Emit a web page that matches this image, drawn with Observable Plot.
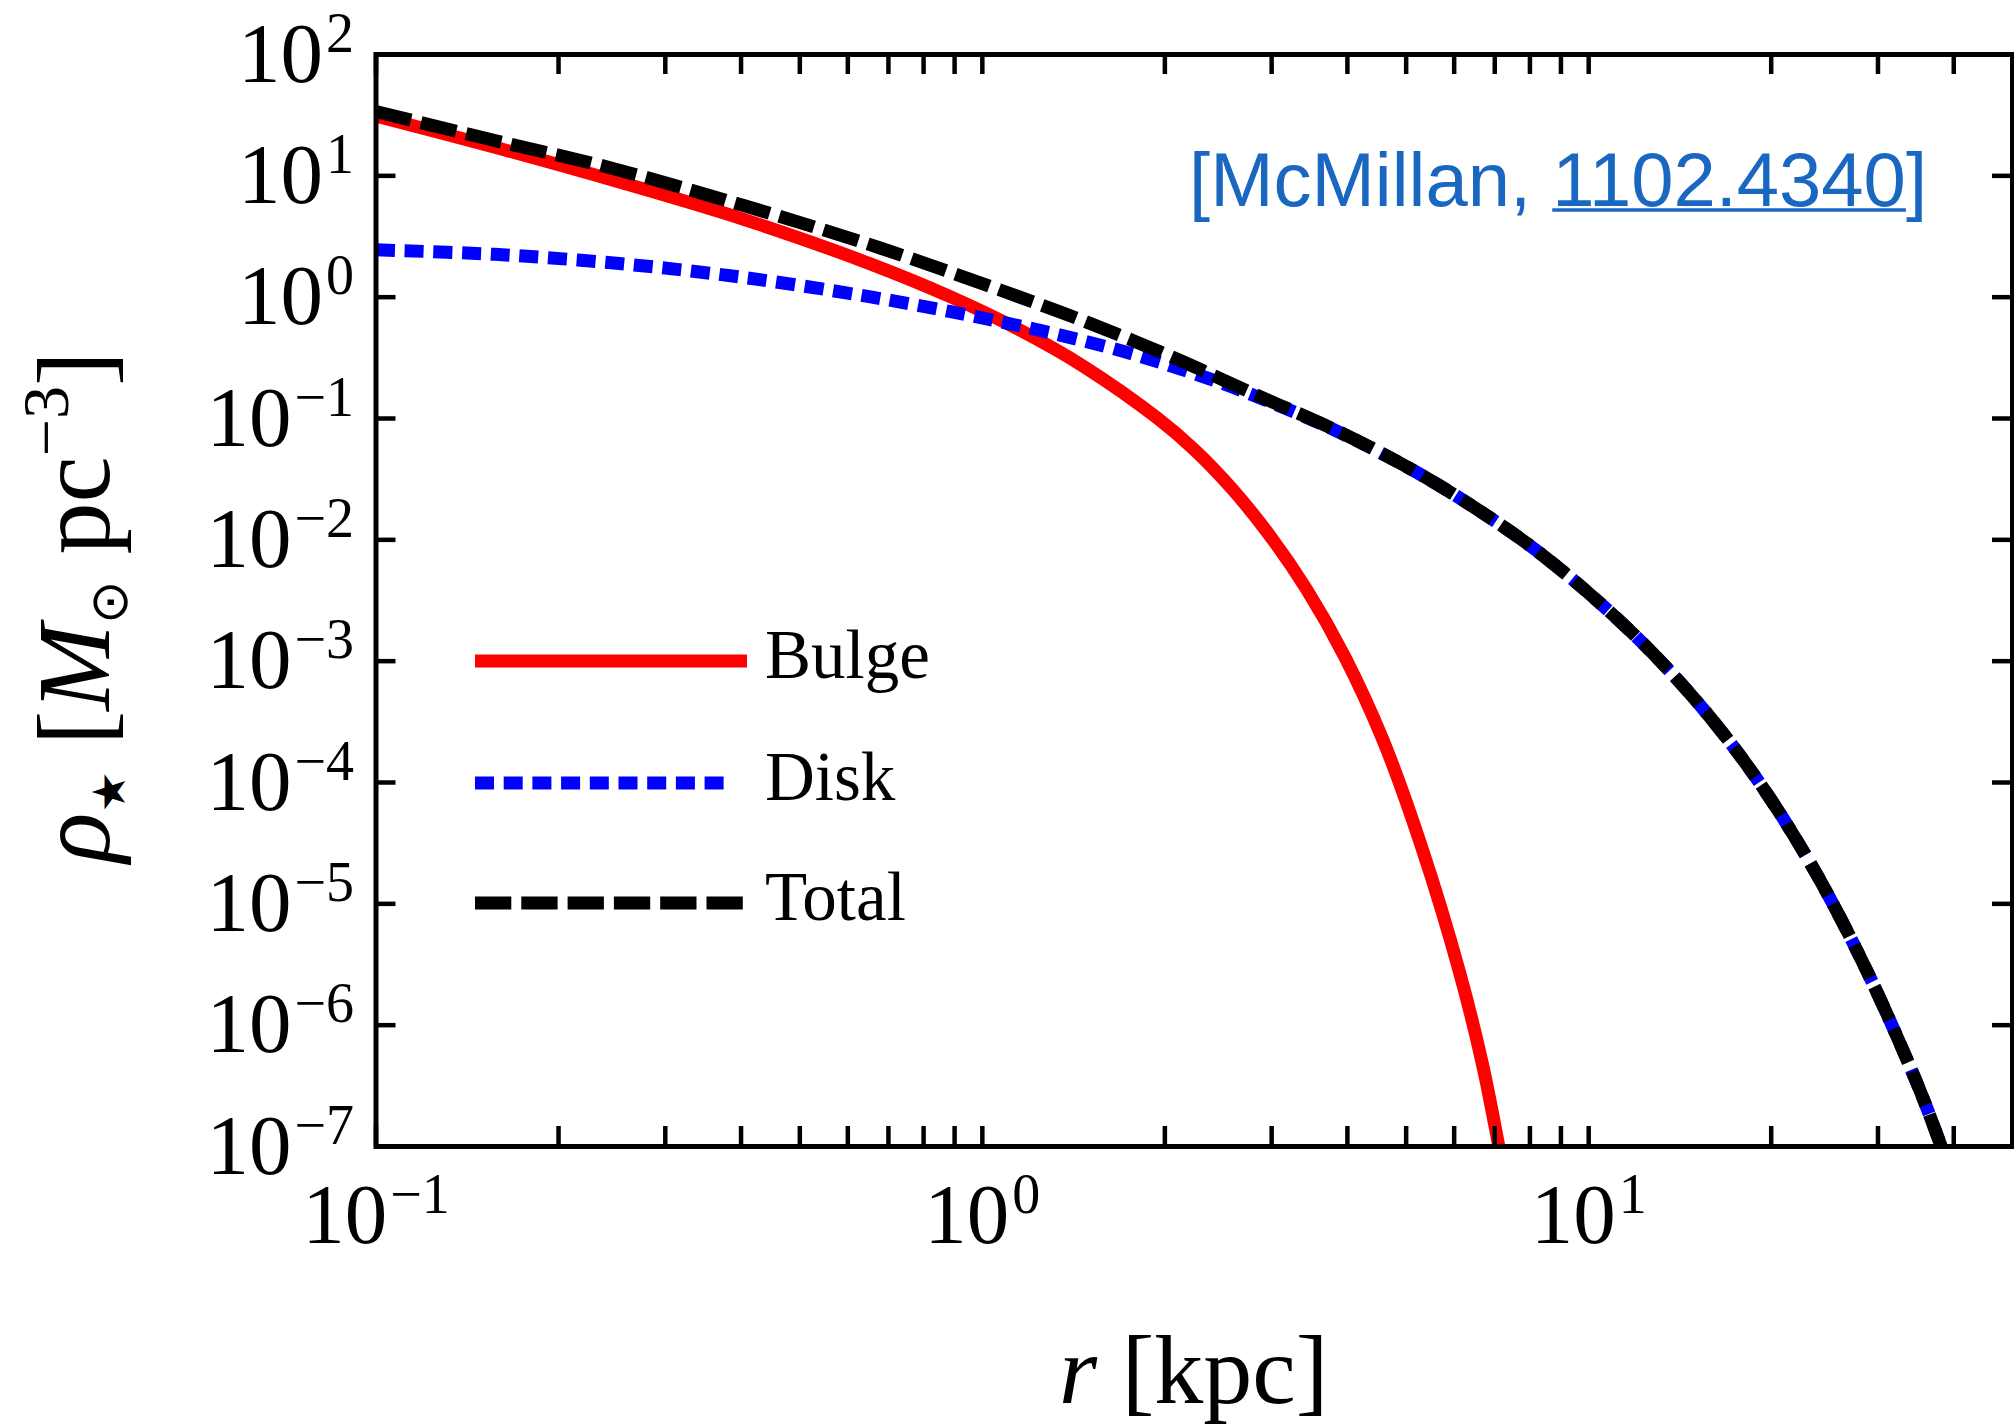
<!DOCTYPE html>
<html>
<head>
<meta charset="utf-8">
<script src="https://cdn.jsdelivr.net/npm/d3@7"></script>
<script src="https://cdn.jsdelivr.net/npm/@observablehq/plot@0.6"></script>
<style>
  html, body { margin: 0; padding: 0; background: #fff; }
  #chart { position: relative; width: 2014px; height: 1427px; }
</style>
</head>
<body>
<div id="chart"></div>
<script>
// Stellar density profiles of the Milky Way mass model (McMillan 2011), r in kpc, rho in Msun/pc^3
const bulgeR   = [0.1, 0.157, 0.252, 0.404, 0.647, 0.887, 1.155, 1.467, 1.947, 2.244, 2.585, 2.979, 3.424, 3.958, 4.579, 5.294, 6.124, 6.678, 7.079, 7.3];
const bulgeRho = [31.1, 17.2, 8.89, 4.38, 1.918, 1.005, 0.533, 0.270, 0.1002, 0.0545, 0.0261, 0.01084, 0.00392, 0.001094, 2.239e-4, 3.01e-5, 2.73e-6, 4.81e-7, 1.122e-7, 4.91e-8];

const diskR   = [0.1, 0.157, 0.252, 0.404, 0.647, 0.887, 1.088, 1.355, 1.718, 2.175, 2.754, 3.89, 5.33, 7.08, 8.32, 10.45, 13.12, 16.27, 19.68, 23.77, 28.75, 34.75, 37.98, 40];
const diskRho = [2.455, 2.253, 1.892, 1.453, 1.0146, 0.7591, 0.6163, 0.4820, 0.3543, 0.2457, 0.1607, 0.07643, 0.03365, 0.01379, 0.007718, 0.002997, 0.001003, 2.944e-4, 8.08e-5, 1.750e-5, 2.813e-6, 3.37e-7, 1.064e-7, 5.15e-8];

const totalR   = [0.1, 0.157, 0.244, 0.404, 0.647, 0.930, 1.123, 1.467, 2.074, 2.841, 3.89, 5.33, 7.08, 8.32, 10.45, 13.12, 16.27, 19.68, 23.77, 28.75, 34.75, 37.98, 40];
const totalRho = [33.88, 19.54, 11.61, 5.689, 2.748, 1.472, 1.049, 0.6397, 0.3148, 0.155, 0.0771, 0.03365, 0.01379, 0.007718, 0.002997, 0.001003, 2.944e-4, 8.08e-5, 1.750e-5, 2.813e-6, 3.37e-7, 1.064e-7, 5.15e-8];

// Axis ticks
const xLabelTicks = [0.1, 1, 10];
const xTicks = [0.1, 0.2, 0.3, 0.4, 0.5, 0.6, 0.7, 0.8, 0.9, 1, 2, 3, 4, 5, 6, 7, 8, 9, 10, 20, 30, 40];
const yLabelTicks = [1e-7, 1e-6, 1e-5, 1e-4, 1e-3, 1e-2, 1e-1, 1, 10, 100];

const seriesNames = ["Bulge", "Disk", "Total"];

const table = (rs, vs) => rs.map((r, i) => ({r, rho: vs[i]}));
const bulge = table(bulgeR, bulgeRho);
const disk = table(diskR, diskRho);
const total = table(totalR, totalRho);

const W = 2014, H = 1427;
const M = {top: 54, right: 2, bottom: 281, left: 375.5};
const innerW = W - M.left - M.right;
const innerH = H - M.top - M.bottom;
const tickLen = 20;
const serif = "'Liberation Serif', 'Times New Roman', serif";
const linkBlue = "#1a67c2";

const styles = {
  Bulge: {stroke: "#ff0000", dash: null},
  Disk:  {stroke: "#0000ff", dash: "19 9.7"},
  Total: {stroke: "#000000", dash: "36.3 10"}
};

const expFormat = d => `10^${Math.round(Math.log10(d))}`;

const svg = Plot.plot({
  width: W,
  height: H,
  marginTop: M.top,
  marginRight: M.right,
  marginBottom: M.bottom,
  marginLeft: M.left,
  style: {background: "white", overflow: "visible"},
  x: {type: "log", domain: [0.1, 50], axis: null},
  y: {type: "log", domain: [1e-7, 100], axis: null},
  marks: [
    Plot.line(bulge, {x: "r", y: "rho", stroke: styles.Bulge.stroke, strokeWidth: 13, curve: "catmull-rom", clip: true, strokeLinejoin: "round"}),
    Plot.line(disk, {x: "r", y: "rho", stroke: styles.Disk.stroke, strokeWidth: 13, strokeDasharray: styles.Disk.dash, strokeLinecap: "butt", curve: "catmull-rom", clip: true}),
    Plot.line(total, {x: "r", y: "rho", stroke: styles.Total.stroke, strokeWidth: 13, strokeDasharray: styles.Total.dash, strokeLinecap: "butt", curve: "catmull-rom", clip: true}),
    // inward ticks on all four sides
    Plot.ruleX(xTicks, {x: d => d, insetTop: innerH - tickLen, strokeWidth: 4.5}),
    Plot.ruleX(xTicks, {x: d => d, insetBottom: innerH - tickLen, strokeWidth: 4.5}),
    Plot.ruleY(yLabelTicks, {y: d => d, insetRight: innerW - tickLen, strokeWidth: 4.5}),
    Plot.ruleY(yLabelTicks, {y: d => d, insetLeft: innerW - tickLen, strokeWidth: 4.5}),
    Plot.frame({stroke: "black", strokeWidth: 5}),
    Plot.axisX({ticks: xLabelTicks, tickFormat: expFormat, tickSize: 0, tickPadding: 36, fontSize: 85, fontFamily: serif, label: null}),
    Plot.axisY({ticks: yLabelTicks, tickFormat: expFormat, tickSize: 0, tickPadding: 22, fontSize: 85, fontFamily: serif, label: null})
  ]
});

document.getElementById("chart").appendChild(svg);
const root = d3.select(svg);

// Power-of-ten tick labels with raised exponents
root.selectAll('g[aria-label="x-axis tick label"] text, g[aria-label="y-axis tick label"] text').each(function () {
  const m = /^10\^(-?\d+)$/.exec(this.textContent);
  if (!m) return;
  const t = d3.select(this);
  t.text("10");
  t.append("tspan").attr("font-size", 56).attr("dx", 3).attr("dy", -30).text(m[1].replace("-", "\u2212"));
});

// y-axis title: rho_star [M_sun pc^-3]
const ylab = root.append("text")
  .attr("transform", `translate(109, 607) rotate(-90)`)
  .attr("text-anchor", "middle")
  .attr("font-family", serif)
  .attr("font-size", 104)
  .attr("fill", "black");
ylab.append("tspan").attr("font-style", "italic").text("ρ");
ylab.append("tspan").attr("font-family", "'DejaVu Sans'").attr("font-size", 46).attr("dy", 16).text("★");
ylab.append("tspan").attr("dy", -16).text(" [");
ylab.append("tspan").attr("font-style", "italic").text("M");
ylab.append("tspan").attr("font-family", "'DejaVu Sans'").attr("font-size", 52).attr("dy", 18).text("⊙");
ylab.append("tspan").attr("dy", -18).text(" pc");
ylab.append("tspan").attr("font-size", 66).attr("dy", -41).text("−3");
ylab.append("tspan").attr("dy", 41).text("]");

// x-axis title
const xlab = root.append("text")
  .attr("x", M.left + innerW / 2)
  .attr("y", 1403)
  .attr("text-anchor", "middle")
  .attr("font-family", serif)
  .attr("font-size", 98)
  .attr("fill", "black");
xlab.append("tspan").attr("font-style", "italic").text("r");
xlab.append("tspan").text(" [kpc]");

// Reference note, top right
const ann = root.append("text")
  .attr("x", 1927)
  .attr("y", 206)
  .attr("text-anchor", "end")
  .attr("font-family", "'Liberation Sans', Arial, sans-serif")
  .attr("font-size", 76)
  .attr("fill", linkBlue);
ann.append("tspan").text("[McMillan, ");
const link = ann.append("tspan").text("1102.4340");
ann.append("tspan").text("]");
{
  const node = link.node();
  const x0 = node.getStartPositionOfChar(0).x;
  const len = node.getComputedTextLength();
  root.append("line")
    .attr("x1", x0).attr("x2", x0 + len)
    .attr("y1", 210).attr("y2", 210)
    .attr("stroke", linkBlue).attr("stroke-width", 3.5);
}

// Legend
const legendRows = [
  {name: seriesNames[0], y: 661, len: 272},
  {name: seriesNames[1], y: 783, len: 249},
  {name: seriesNames[2], y: 903, len: 268}
];
const lg = root.append("g").attr("aria-label", "legend");
legendRows.forEach(row => {
  const s = styles[row.name];
  lg.append("line")
    .attr("x1", 475).attr("x2", 475 + row.len)
    .attr("y1", row.y).attr("y2", row.y)
    .attr("stroke", s.stroke)
    .attr("stroke-width", 13)
    .attr("stroke-dasharray", s.dash)
    .attr("stroke-linecap", "butt");
  lg.append("text")
    .attr("x", 765)
    .attr("y", row.y + 17)
    .attr("text-anchor", "start")
    .attr("font-family", serif)
    .attr("font-size", 69)
    .attr("fill", "black")
    .text(row.name);
});
</script>
</body>
</html>
